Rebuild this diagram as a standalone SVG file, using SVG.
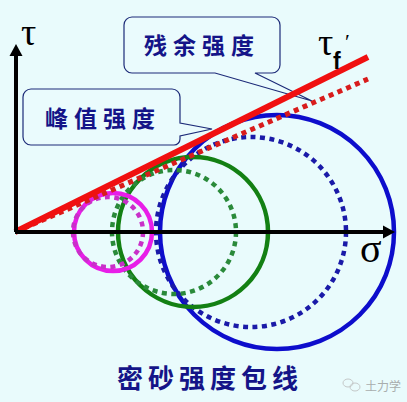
<svg xmlns="http://www.w3.org/2000/svg" width="407" height="402" viewBox="0 0 407 402">
<style>
.bg{fill:#e9fbfc}
.callout{fill:#eafbfd;stroke:#1c2a78;stroke-width:1.2}
.cn{font-family:"Noto Sans CJK SC","Noto Sans CJK TC",sans-serif;font-weight:bold;fill:#141488;text-anchor:middle}
.gr{font-family:"Liberation Serif",serif;fill:#000}
.circ{fill:none;stroke-width:4.5}
.dot{stroke-dasharray:5 4.5}
.ax{stroke:#000;stroke-width:4;fill:none}
</style>
<rect class="bg" x="0" y="0" width="407" height="402"/>

<g id="callout-residual">
<path class="callout" d="M132,17 H272 A8,8 0 0 1 280,25 V65 A8,8 0 0 1 272,73 H255 L312,101 L215,73 H132 A8,8 0 0 1 124,65 V25 A8,8 0 0 1 132,17 Z"/>
<text class="cn" x="202" y="54" font-size="23" letter-spacing="6">残余强度</text>
</g>

<g id="callout-peak">
<path class="callout" d="M31,89 H172 A8,8 0 0 1 180,97 V123 L212,129 L180,136 V139 A6,6 0 0 1 174,145 H31 A8,8 0 0 1 23,137 V97 A8,8 0 0 1 31,89 Z"/>
<text class="cn" x="103" y="127" font-size="23" letter-spacing="6">峰值强度</text>
</g>

<g id="circles">
<circle id="blue-solid" class="circ" cx="277" cy="232" r="117" stroke="#0d0dcc"/>
<circle id="blue-dotted" class="circ dot" cx="251" cy="232" r="95" stroke="#1a1aa8"/>
<circle id="green-solid" class="circ" cx="193" cy="232" r="75" stroke="#138013"/>
<circle id="green-dotted" class="circ dot" cx="174" cy="232" r="62" stroke="#2a8a3a"/>
<circle id="magenta-solid" class="circ" cx="113" cy="232" r="39" stroke="#e81ee8"/>
<circle id="magenta-dotted" class="circ dot" cx="108" cy="232" r="35" stroke="#c830c8"/>
</g>

<g id="envelopes">
<line x1="15" y1="232" x2="368" y2="79" stroke="#d81c1c" stroke-width="5" class="dot"/>
<line x1="15" y1="232" x2="368" y2="57" stroke="#f01010" stroke-width="6"/>
</g>

<g id="axes">
<line class="ax" x1="16" y1="232" x2="16" y2="54"/>
<polygon points="9.5,56 16,44 22.5,56" fill="#000"/>
<line class="ax" x1="15" y1="232" x2="385" y2="232"/>
<polygon points="383,225.5 395,232 383,238.5" fill="#000"/>
</g>

<g id="labels">
<text class="gr" x="21" y="45" font-size="38">τ</text>
<text class="gr" x="318" y="55" font-size="38">τ</text>
<text x="333" y="69" font-size="23" font-family="Liberation Sans, sans-serif" font-weight="bold" fill="#000">f</text>
<text class="gr" x="345" y="49" font-size="22">′</text>
<text class="gr" x="360" y="262" font-size="40">σ</text>
<text class="cn" x="210" y="388" font-size="26" letter-spacing="5">密砂强度包线</text>
</g>

<g id="watermark" fill="none" stroke="#c4c8c8" stroke-width="1">
<ellipse cx="348" cy="383" rx="5" ry="4"/>
<ellipse cx="355" cy="387" rx="5" ry="4"/>
<text x="365" y="391" font-size="12" font-family="Noto Sans CJK SC, sans-serif" fill="#a8adad" stroke="none">土力学</text>
</g>
</svg>
